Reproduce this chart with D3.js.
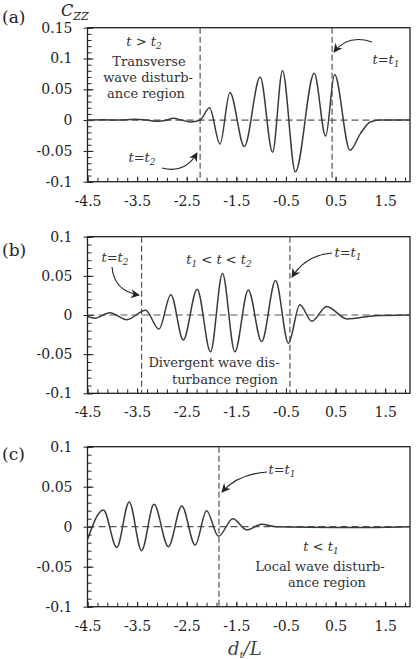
<!DOCTYPE html>
<html>
<head>
<meta charset="utf-8">
<script src="https://cdn.jsdelivr.net/npm/d3@7"></script>
<style>
  body { margin: 0; background: #fff; }
  svg { display: block; }
  text { font-family: "DejaVu Serif", "Liberation Serif", serif; }
</style>
</head>
<body>
<svg id="chart" width="417" height="659"></svg>
<script>
// data
var xTicks = [-4.5, -3.5, -2.5, -1.5, -0.5, 0.5, 1.5];
var aYTicks = [0.15, 0.1, 0.05, 0, -0.05, -0.1];
var bcYTicks = [0.1, 0.05, 0, -0.05, -0.1];

// (a) t > t2
var aX = [-4.5, -4.2, -3.9, -3.54, -3.3, -3.08, -2.9, -2.77, -2.6, -2.43, -2.23, -2.04, -1.83, -1.63, -1.34, -1.02, -0.77, -0.57, -0.31, 0.07, 0.30, 0.48, 0.79, 1.0, 1.2, 1.4, 2.0];
var aY = [0, 0.0005, 0, 0.0015, 0, -0.002, 0, 0.003, 0, -0.003, 0, 0.020, -0.039, 0.045, -0.043, 0.070, -0.052, 0.080, -0.084, 0.076, -0.026, 0.074, -0.049, -0.022, -0.003, 0, 0];
var aLines = [-2.23, 0.43];

// (b) t1 < t < t2
var bX = [-4.5, -4.35, -4.05, -3.71, -3.33, -3.06, -2.82, -2.57, -2.29, -2.02, -1.78, -1.53, -1.26, -0.99, -0.71, -0.45, -0.22, 0.02, 0.32, 0.73, 1.3, 2.0];
var bY = [-0.002, -0.004, 0.003, -0.006, 0.006, -0.018, 0.026, -0.032, 0.033, -0.047, 0.053, -0.047, 0.032, -0.034, 0.044, -0.036, 0.013, -0.008, 0.011, -0.005, -0.001, 0];
var bLines = [-3.41, -0.42];

// (c) t < t1
var cX = [-4.5, -4.18, -3.91, -3.66, -3.41, -3.16, -2.87, -2.60, -2.33, -2.10, -1.86, -1.57, -1.29, -0.99, -0.7, 0.5, 1.0, 2.0];
var cY = [-0.016, 0.021, -0.026, 0.031, -0.030, 0.028, -0.025, 0.026, -0.023, 0.020, -0.012, 0.010, -0.004, 0.003, 0, -0.001, -0.001, 0];
var cLines = [-1.85];

var svg = d3.select("#chart");
var left = 87.5, right = 410;
var ink = "#222";

svg.append("defs").append("marker")
  .attr("id", "head")
  .attr("viewBox", "0 0 10 10")
  .attr("refX", 9).attr("refY", 5)
  .attr("markerWidth", 9).attr("markerHeight", 9)
  .attr("markerUnits", "userSpaceOnUse")
  .attr("orient", "auto")
  .append("path")
  .attr("d", "M0,0 L10,5 L0,10 L3,5 Z")
  .attr("fill", ink);

var x = d3.scaleLinear().domain([-4.5, 2.0]).range([left, right]);

function panel(top, bottom, yDomain, yTicks, xs, ys, vlines, label, labelY) {
  var y = d3.scaleLinear().domain(yDomain).range([bottom, top]);
  var g = svg.append("g");

  // minor ticks
  g.append("g").attr("transform", "translate(0," + bottom + ")")
    .call(d3.axisBottom(x).tickValues(d3.range(-4.5, 2.0, 0.2)).tickSize(-4).tickFormat(""));
  var minorY = d3.range(Math.round(yDomain[0] * 100), Math.round(yDomain[1] * 100) + 1).map(function(d) { return d / 100; });
  g.append("g").attr("transform", "translate(" + left + ",0)")
    .call(d3.axisLeft(y).tickValues(minorY).tickSize(-4).tickFormat(""));

  // major ticks + labels
  g.append("g").attr("transform", "translate(0," + bottom + ")")
    .call(d3.axisBottom(x).tickValues(xTicks).tickSize(-5).tickPadding(14)
      .tickFormat(function(d) { return d3.format(".1f")(d).replace("−", "-"); }));
  g.append("g").attr("transform", "translate(" + left + ",0)")
    .call(d3.axisLeft(y).tickValues(yTicks).tickSize(-6).tickPadding(15)
      .tickFormat(function(d) { return d === 0 ? "0" : String(d); }));
  g.append("g").attr("transform", "translate(" + left + ",0)")
    .call(d3.axisLeft(y).tickValues(yTicks).tickSize(4).tickFormat(""));

  g.selectAll(".domain").remove();
  g.selectAll(".tick line").attr("stroke", ink).attr("stroke-width", 1);
  g.selectAll(".tick text").attr("fill", ink).attr("font-size", 14)
    .attr("font-family", "DejaVu Serif");

  // frame
  g.append("rect")
    .attr("x", left).attr("y", top)
    .attr("width", right - left).attr("height", bottom - top)
    .attr("fill", "none").attr("stroke", ink).attr("stroke-width", 1.3);

  // zero line
  g.append("line")
    .attr("x1", left).attr("x2", right)
    .attr("y1", y(0)).attr("y2", y(0))
    .attr("stroke", "#555").attr("stroke-width", 1.2)
    .attr("stroke-dasharray", "7,4");

  // time marker lines
  g.selectAll(".vl").data(vlines).enter().append("line")
    .attr("x1", function(d) { return x(d); }).attr("x2", function(d) { return x(d); })
    .attr("y1", top).attr("y2", bottom)
    .attr("stroke", "#555").attr("stroke-width", 1.2)
    .attr("stroke-dasharray", "6,3");

  // curve
  var pts = xs.map(function(d, i) { return [d, ys[i]]; });
  g.append("path")
    .datum(pts)
    .attr("fill", "none")
    .attr("stroke", "#3a3a3a")
    .attr("stroke-width", 1.5)
    .attr("d", d3.line()
      .x(function(d) { return x(d[0]); })
      .y(function(d) { return y(d[1]); })
      .curve(d3.curveMonotoneX));

  svg.append("text").attr("x", 2).attr("y", labelY)
    .attr("font-size", 17).attr("fill", ink).text(label);

  return g;
}

panel(27.7, 181.7, [-0.1, 0.15], aYTicks, aX, aY, aLines, "(a)", 23);
panel(236.7, 393.3, [-0.1, 0.1], bcYTicks, bX, bY, bLines, "(b)", 256);
panel(446.7, 606.7, [-0.1, 0.1], bcYTicks, cX, cY, cLines, "(c)", 460);

// y axis title C_ZZ
var cz = svg.append("text").attr("x", 61).attr("y", 16).attr("fill", ink);
cz.append("tspan").attr("font-size", 16).attr("font-style", "italic").text("C");
cz.append("tspan").attr("font-size", 11).attr("font-style", "italic").attr("dy", 4).text("ZZ");

// x axis title d_t/L
var dl = svg.append("text").attr("x", 228).attr("y", 655).attr("fill", "#444");
dl.append("tspan").attr("font-size", 18).attr("font-style", "italic").text("d");
dl.append("tspan").attr("font-size", 10).attr("font-style", "italic").attr("dy", 3).text("t");
dl.append("tspan").attr("font-size", 18).attr("font-style", "italic").attr("dy", -3).text("/L");

// annotation helpers
function plain(xp, yp, str) {
  svg.append("text").attr("x", xp).attr("y", yp)
    .attr("text-anchor", "middle").attr("font-size", 13).attr("fill", "#333")
    .text(str);
}
// parts: [text, isSub]
function math(xp, yp, parts) {
  var t = svg.append("text").attr("x", xp).attr("y", yp)
    .attr("text-anchor", "middle").attr("font-size", 13).attr("fill", "#333")
    .attr("font-style", "italic");
  var sub = false;
  parts.forEach(function(p) {
    var s = t.append("tspan").text(p[0]);
    if (p[1] && !sub) { s.attr("dy", 3).attr("font-size", 9); sub = true; }
    else if (p[1]) { s.attr("font-size", 9); }
    else if (sub) { s.attr("dy", -3); sub = false; }
  });
}
function arrow(x0, y0, cx, cy, x1, y1) {
  svg.append("path")
    .attr("d", "M" + x0 + "," + y0 + " Q" + cx + "," + cy + " " + x1 + "," + y1)
    .attr("fill", "none").attr("stroke", ink).attr("stroke-width", 1.1)
    .attr("marker-end", "url(#head)");
}

// (a)
math(144, 46, [["t > t"], ["2", true]]);
plain(149, 66, "Transverse");
plain(148, 82, "wave disturb-");
plain(146, 98, "ance region");
math(142, 162, [["t=t"], ["2", true]]);
arrow(162, 168, 185, 174, 197, 153);
math(386, 64, [["t=t"], ["1", true]]);
arrow(372, 42, 348, 34, 334, 52);

// (b)
math(115, 262, [["t=t"], ["2", true]]);
arrow(112, 267, 114, 291, 139, 295);
math(219, 264, [["t"], ["1", true], [" < t < t"], ["2", true]]);
math(348, 257, [["t=t"], ["1", true]]);
arrow(332, 253, 306, 255, 292, 277);
plain(214, 367, "Divergent wave dis-");
plain(225, 384, "turbance region");

// (c)
math(282, 474, [["t=t"], ["1", true]]);
arrow(267, 472, 238, 474, 222, 492);
math(321, 551, [["t < t"], ["1", true]]);
plain(320, 571, "Local wave disturb-");
plain(327, 587, "ance region");
</script>
</body>
</html>
